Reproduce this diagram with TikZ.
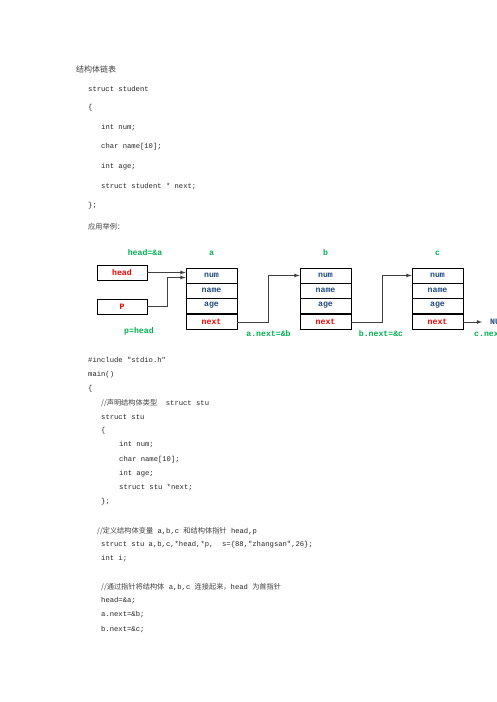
\documentclass[tikz,border=0pt]{standalone}
\usepackage{fontspec}
\setmonofont{Liberation Mono}
\newfontfamily\cjk{Noto Sans CJK SC}
\usetikzlibrary{arrows}
\definecolor{lblgreen}{RGB}{0,176,80}
\definecolor{fldblue}{RGB}{31,73,125}
\definecolor{fldred}{RGB}{240,0,0}
\newcommand\codefont{\fontsize{7.2}{8.6}\selectfont\ttfamily}
\newcommand\boldfont{\fontsize{8.2}{9}\selectfont\ttfamily\bfseries}
\newcommand\zh[1]{{\cjk\color{black!75}#1}}
\tikzset{
  codeline/.style={anchor=west, inner sep=0pt, font=\codefont, text=black!85},
  field/.style={draw, line width=0.8pt, minimum width=51pt, minimum height=15pt,
    inner sep=0pt, font=\boldfont, text=fldblue},
  ptrbox/.style={draw, line width=0.8pt, minimum width=50pt, minimum height=15pt,
    inner sep=0pt, font=\boldfont, text=fldred},
  lbl/.style={inner sep=0pt, font=\boldfont, text=lblgreen},
  link/.style={draw=black!75, line width=0.8pt, -latex}
}

\begin{document}
\begin{tikzpicture}[x=1pt, y=-1pt]
\useasboundingbox (0,0) rectangle (496,702);
\clip (0,0) rectangle (496,702);
%
% upper text
\node[codeline] (t0) at (76,69) {\fontsize{8}{9}\selectfont\zh{结构体链表}};
\node[codeline] (t1) at (88,89) {struct student};
\node[codeline] (t2) at (88,108) {\{};
\node[codeline] (t3) at (101,128) {int num;};
\node[codeline] (t4) at (101,147) {char name[10];};
\node[codeline] (t5) at (101,167) {int age;};
\node[codeline] (t6) at (101,187) {struct student * next;};
\node[codeline] (t7) at (88,206) {\};};
\node[codeline] (t8) at (88,227) {\zh{应用举例：}};
%
% pointer boxes
\node[ptrbox] (head) at (122,272.5) {head};
\node[ptrbox] (p) at (122,306.5) {P};
\node[lbl] (headlbl) at (145,253) {head=\&a};
\node[lbl] (plbl) at (139,331) {p=head};
%
% the three structs
\foreach \s/\x in {a/211.5, b/325.5, c/437.5}{
  \node[lbl] (\s-lbl) at (\x,253) {\s};
  \node[field] (\s-num) at (\x,275.5) {num};
  \node[field] (\s-name) at (\x,290.5) {name};
  \node[field] (\s-age) at (\x,305.5) {age};
  \node[field, text=fldred] (\s-next) at (\x,322) {next};
}
\node[lbl] (anext) at (268.5,334) {a.next=\&b};
\node[lbl] (bnext) at (381,334) {b.next=\&c};
\node[lbl, anchor=west] (cnext) at (474,334) {c.next=NULL};
\node[lbl, anchor=west, text=fldblue] (null) at (490,322) {NULL};
\coordinate (cend) at (482,322);
%
% links
\draw[link] (head.east) -- (head.east -| a-num.west);
\draw[link] (p.east) -- ++(20,0) |- ([yshift=-2pt]a-num.west);
\draw[link] (a-next.east) -- ++(31,0) |- (b-num.west);
\draw[link] (b-next.east) -- ++(31,0) |- (c-num.west);
\draw[link] (c-next.east) -- (cend);
%
% lower text
\node[codeline] (m1) at (88,360) {\#include "stdio.h"};
\node[codeline] (m2) at (88,375) {main()};
\node[codeline] (m3) at (88,389) {\{};
\node[codeline] (m4) at (101,403) {\zh{//声明结构体类型}\ \ struct stu};
\node[codeline] (m5) at (101,417) {struct stu};
\node[codeline] (m6) at (101,431) {\{};
\node[codeline] (m7) at (119,445) {int num;};
\node[codeline] (m8) at (119,460) {char name[10];};
\node[codeline] (m9) at (119,474) {int age;};
\node[codeline] (m10) at (119,488) {struct stu *next;};
\node[codeline] (m11) at (101,502) {\};};
\node[codeline] (m12) at (97,531) {\zh{//定义结构体变量} a,b,c \zh{和结构体指针} head,p};
\node[codeline] (m13) at (101,545) {struct stu a,b,c,*head,*p,\ \ s=\{88,"zhangsan",26\};};
\node[codeline] (m14) at (101,559) {int i;};
\node[codeline] (m15) at (101,587) {\zh{//通过指针将结构体} a,b,c \zh{连接起来，}head \zh{为首指针}};
\node[codeline] (m16) at (101,601) {head=\&a;};
\node[codeline] (m17) at (101,615) {a.next=\&b;};
\node[codeline] (m18) at (101,630) {b.next=\&c;};
\end{tikzpicture}
\end{document}
